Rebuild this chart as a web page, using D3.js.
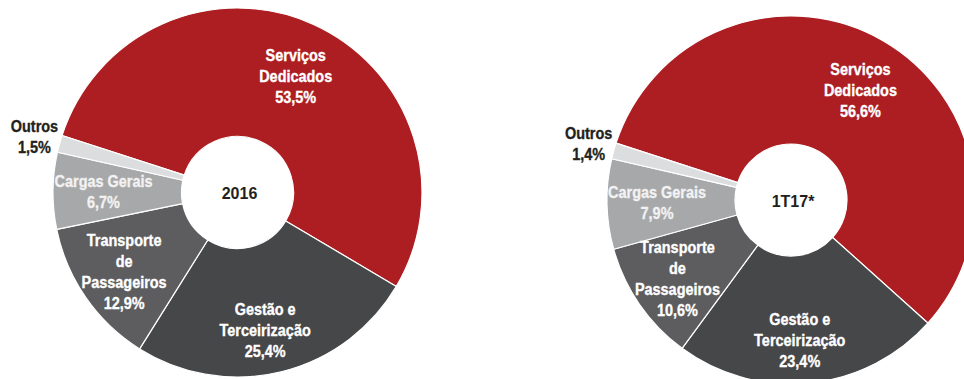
<!DOCTYPE html>
<html>
<head>
<meta charset="utf-8">
<script src="https://cdn.jsdelivr.net/npm/d3@7"></script>
<style>
  html, body { margin: 0; padding: 0; background: #ffffff; }
  svg { display: block; }
  .slice-label { font-family: "Liberation Sans", Arial, sans-serif; font-weight: bold; font-size: 17px; stroke-width: 0.35px; }
  .center-label { font-family: "Liberation Sans", Arial, sans-serif; font-weight: bold; font-size: 16px; fill: #231f20; }
</style>
</head>
<body>
<svg id="chart" width="964" height="379"></svg>
<script>
// Segment names (label lines) and their colours
const segments = ["Serviços Dedicados", "Gestão e Terceirização", "Transporte de Passageiros", "Cargas Gerais", "Outros"];
const segmentLines = [["Serviços", "Dedicados"], ["Gestão e", "Terceirização"], ["Transporte", "de", "Passageiros"], ["Cargas Gerais"], ["Outros"]];
const segmentColors = ["#ad1e23", "#464749", "#5d5d5f", "#a7a8aa", "#dcddde"];
const labelColors = ["#ffffff", "#ffffff", "#ffffff", "#f2f2f2", "#231f20"];

// Revenue share by segment (%)
const periods = ["2016", "1T17*"];
const share2016 = [53.5, 25.4, 12.9, 6.7, 1.5];
const share1T17 = [56.6, 23.4, 10.6, 7.9, 1.4];
const percentLabels2016 = ["53,5%", "25,4%", "12,9%", "6,7%", "1,5%"];
const percentLabels1T17 = ["56,6%", "23,4%", "10,6%", "7,9%", "1,4%"];

const svg = d3.select("#chart");

const donuts = [
  { title: periods[0], values: share2016, labels: percentLabels2016, cx: 237.5, cy: 192.5, R: 184.5 },
  { title: periods[1], values: share1T17, labels: percentLabels1T17, cx: 791, cy: 200, R: 184 }
];

const innerR = 56;
const lineH = 21;
const startDeg = -72;
const narrow = 0.85; // horizontal squeeze for a condensed look

// per-segment label placement: radius from centre and a small angular nudge (radians)
const labelRadius = [130, 140, 138, 134, null];
const labelNudge = [0.04, 0.04, 0, 0, 0];

const pie = d3.pie()
  .sort(null)
  .value(d => d)
  .startAngle(startDeg * Math.PI / 180)
  .endAngle((startDeg + 360) * Math.PI / 180);

donuts.forEach(cfg => {
  const g = svg.append("g").attr("transform", `translate(${cfg.cx},${cfg.cy})`);
  const arcs = pie(cfg.values);
  const arc = d3.arc().innerRadius(innerR).outerRadius(cfg.R);

  g.selectAll("path.slice")
    .data(arcs)
    .join("path")
    .attr("class", "slice")
    .attr("d", arc)
    .attr("fill", (d, i) => segmentColors[i])
    .attr("stroke", "#ffffff")
    .attr("stroke-width", 1.2)
    .attr("stroke-linejoin", "round");

  // Labels sit on the slice's mid angle; the thin "Outros" slice gets its label outside the ring
  arcs.forEach((d, i) => {
    const mid = (d.startAngle + d.endAngle) / 2 + labelNudge[i];
    const r = labelRadius[i] === null ? cfg.R + 26 : labelRadius[i];
    const x = Math.sin(mid) * r;
    const y = -Math.cos(mid) * r;
    const lines = segmentLines[i].concat([cfg.labels[i]]);
    const top = -(lines.length - 1) * lineH / 2;
    const t = g.append("text")
      .attr("class", "slice-label")
      .attr("text-anchor", "middle")
      .attr("fill", labelColors[i])
      .attr("stroke", labelColors[i])
      .attr("transform", `translate(${x},${y}) scale(${narrow},1)`);
    lines.forEach((ln, k) => {
      t.append("tspan")
        .attr("x", 0)
        .attr("y", top + k * lineH)
        .attr("dy", "0.35em")
        .text(ln);
    });
  });

  g.append("text")
    .attr("class", "center-label")
    .attr("text-anchor", "middle")
    .attr("x", 2)
    .attr("y", 1)
    .attr("dy", "0.35em")
    .text(cfg.title);
});
</script>
</body>
</html>
